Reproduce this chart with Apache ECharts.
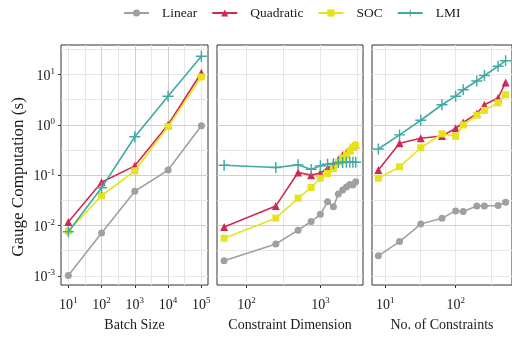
<!DOCTYPE html>
<html>
<head>
<meta charset="utf-8">
<script src="https://cdn.jsdelivr.net/npm/echarts@6/dist/echarts.min.js"></script>
<style>
  html, body { margin: 0; padding: 0; background: #fff; }
  #chart { width: 512px; height: 337px; }
</style>
</head>
<body>
<div id="chart"></div>
<script>
// panel 1: batch size
const batchSize = [10, 100, 1000, 10000, 100000];
const batchLinear = [0.00102, 0.0071, 0.048, 0.126, 0.96];
const batchQuadratic = [0.0117, 0.072, 0.153, 1.0, 10.8];
const batchSOC = [0.0077, 0.039, 0.122, 0.92, 8.9];
const batchLMI = [0.0075, 0.056, 0.58, 3.7, 23];

// panel 2: constraint dimension
const constraintDim = [50, 250, 500, 750, 1000, 1250, 1500, 1750, 2000, 2250, 2500, 2750, 3000];
const dimLinear = [0.0020, 0.0043, 0.0081, 0.012, 0.0167, 0.0295, 0.0236, 0.042, 0.051, 0.058, 0.065, 0.064, 0.074];
const dimQuadratic = [0.0093, 0.0245, 0.113, 0.10, 0.11, 0.137, 0.165, 0.205, 0.25, 0.28, 0.32, 0.375, 0.40];
const dimSOC = [0.0056, 0.014, 0.035, 0.057, 0.087, 0.108, 0.135, 0.18, 0.22, 0.25, 0.30, 0.36, 0.39];
const dimLMI = [0.157, 0.142, 0.16, 0.13, 0.153, 0.165, 0.17, 0.178, 0.178, 0.18, 0.18, 0.18, 0.18];

// panel 3: number of constraints
const numConstraints = [8, 16, 32, 64, 100, 128, 200, 256, 400, 512];
const numLinear = [0.0025, 0.0048, 0.0107, 0.014, 0.0195, 0.019, 0.0245, 0.0245, 0.025, 0.029];
const numQuadratic = [0.126, 0.43, 0.54, 0.60, 0.85, 1.11, 1.67, 2.5, 3.4, 6.9];
const numSOC = [0.087, 0.146, 0.35, 0.66, 0.59, 0.99, 1.55, 1.93, 2.73, 3.95];
const numLMI = [0.33, 0.63, 1.23, 2.5, 3.7, 4.95, 7.4, 9.5, 14.5, 18.7];

const methodNames = ["Linear", "Quadratic", "SOC", "LMI"];
const panelTitles = ["Batch Size", "Constraint Dimension", "No. of Constraints"];
const xTicks = [[10, 100, 1000, 10000, 100000], [100, 1000], [10, 100]];
const yTicks = [0.001, 0.01, 0.1, 1, 10];

const panels = [
  { x: batchSize, ys: [batchLinear, batchQuadratic, batchSOC, batchLMI] },
  { x: constraintDim, ys: [dimLinear, dimQuadratic, dimSOC, dimLMI] },
  { x: numConstraints, ys: [numLinear, numQuadratic, numSOC, numLMI] },
];

const FONT = "Liberation Serif";
const colors = ["#a0a0a0", "#d02a52", "#e6e31c", "#3fa9a2"];
const plusPath = "path://M4.35,0H5.65V4.35H10V5.65H5.65V10H4.35V5.65H0V4.35H4.35Z";
const symbols = ["circle", "triangle", "rect", plusPath];
const symbolSizes = [7, 8, 7, 11];

const gridBoxes = [
  { left: 61, width: 147 },
  { left: 217, width: 146 },
  { left: 372, width: 146 },
];
const xRanges = [
  [Math.pow(10, 0.78), Math.pow(10, 5.2)],
  [Math.pow(10, 1.603), Math.pow(10, 3.576)],
  [Math.pow(10, 0.813), Math.pow(10, 2.8)],
];
const yMin = Math.pow(10, -3.181);
const yMax = Math.pow(10, 1.584);

const rich = {
  b: { fontSize: 14, fontFamily: FONT, color: "#1a1a1a", padding: [3, 0, 0, 0] },
  s: { fontSize: 9, fontFamily: FONT, color: "#1a1a1a", padding: [0, 0, 6, 0] },
};
const powLabel = (v) => "{b|10}{s|" + Math.round(Math.log10(v)) + "}";

const majorGrid = { show: true, showMinLine: false, showMaxLine: false, lineStyle: { color: "#cfcfcf", width: 1 } };
const minorGrid = { show: true, showMinLine: false, showMaxLine: false, lineStyle: { color: "#e6e6e6", width: 1 } };

const grid = [], xAxis = [], yAxis = [], series = [];
gridBoxes.forEach((g, i) => {
  grid.push({
    left: g.left, width: g.width, top: 45, height: 245,
    show: true, borderColor: "#333", borderWidth: 1, backgroundColor: "#fff",
  });
  // main x axis: labels, ticks, major grid lines
  xAxis.push({
    type: "log", logBase: 10, gridIndex: i, position: "bottom",
    min: xRanges[i][0], max: xRanges[i][1],
    name: panelTitles[i], nameLocation: "middle", nameGap: 33,
    nameTextStyle: { fontFamily: FONT, fontSize: 14, color: "#1a1a1a" },
    axisLine: { show: false },
    axisTick: { show: true, length: 3, customValues: xTicks[i], lineStyle: { color: "#333" } },
    axisLabel: { customValues: xTicks[i], formatter: powLabel, rich: rich, margin: 10 },
    splitLine: majorGrid,
    z: 3,
  });
  // half-decade grid lines
  xAxis.push({
    type: "log", logBase: Math.sqrt(10), gridIndex: i, position: "top",
    min: xRanges[i][0], max: xRanges[i][1], splitNumber: 10,
    axisLine: { show: false }, axisTick: { show: false }, axisLabel: { show: false },
    splitLine: minorGrid,
    z: 2,
  });
  yAxis.push({
    type: "log", logBase: 10, gridIndex: i, position: "left",
    min: yMin, max: yMax,
    name: i === 0 ? "Gauge Computation (s)" : "",
    nameLocation: "middle", nameGap: 34, nameRotate: 90,
    nameTextStyle: { fontFamily: FONT, fontSize: 17, color: "#1a1a1a", padding: [0, 24, 0, 0] },
    axisLine: { show: false },
    axisTick: { show: i === 0, length: 3, customValues: yTicks, lineStyle: { color: "#333" } },
    axisLabel: { show: i === 0, customValues: yTicks, formatter: powLabel, rich: rich, margin: 6 },
    splitLine: majorGrid,
    z: 3,
  });
  yAxis.push({
    type: "log", logBase: Math.sqrt(10), gridIndex: i, position: "right",
    min: yMin, max: yMax, splitNumber: 10,
    axisLine: { show: false }, axisTick: { show: false }, axisLabel: { show: false },
    splitLine: minorGrid,
    z: 2,
  });

  const p = panels[i];
  p.ys.forEach((ys, k) => {
    series.push({
      name: methodNames[k],
      type: "line",
      xAxisIndex: 2 * i,
      yAxisIndex: 2 * i,
      data: p.x.map((x, j) => [x, ys[j]]),
      symbol: symbols[k],
      symbolSize: symbolSizes[k],
      showSymbol: true,
      color: colors[k],
      lineStyle: { color: colors[k], width: 1.6 },
      itemStyle: { color: colors[k] },
      clip: true,
      z: 5 + k,
    });
  });
});

const chart = echarts.init(document.getElementById("chart"), null, { renderer: "canvas" });
chart.setOption({
  animation: false,
  backgroundColor: "#fff",
  legend: {
    left: 118, top: 1,
    data: methodNames,
    itemWidth: 25, itemHeight: 9, itemGap: 14,
    textStyle: { fontFamily: FONT, fontSize: 13.5, color: "#1a1a1a", padding: [0, 0, 0, 8] },
  },
  grid, xAxis, yAxis, series,
});
</script>
</body>
</html>
